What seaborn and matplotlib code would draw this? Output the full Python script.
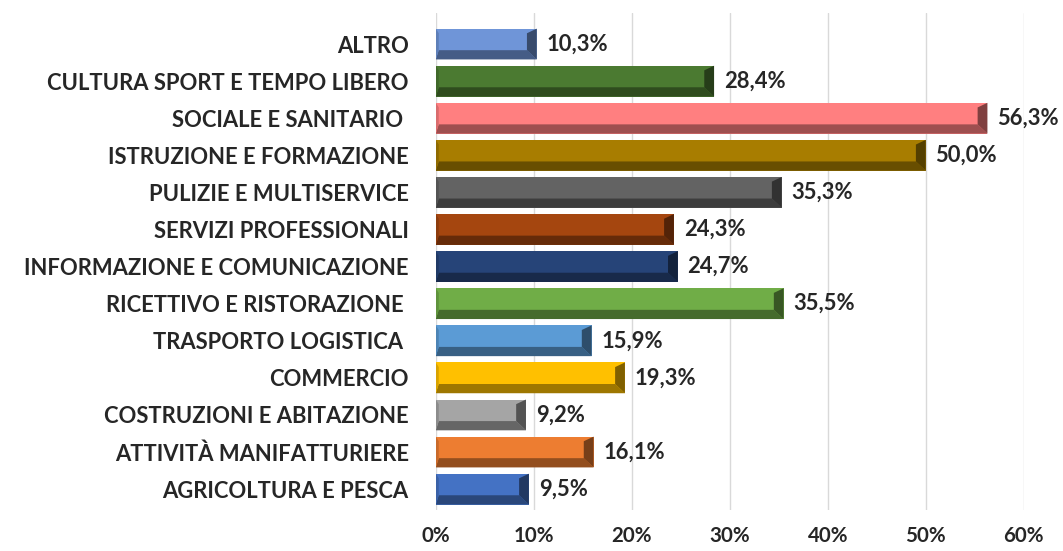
import matplotlib
matplotlib.use("Agg")
import matplotlib.pyplot as plt
import seaborn as sns
import pandas as pd
from matplotlib.patches import Polygon
from matplotlib.colors import to_rgb

# data
settori = ["ALTRO", "CULTURA SPORT E TEMPO LIBERO", "SOCIALE E SANITARIO ",
           "ISTRUZIONE E FORMAZIONE", "PULIZIE E MULTISERVICE", "SERVIZI PROFESSIONALI",
           "INFORMAZIONE E COMUNICAZIONE", "RICETTIVO E RISTORAZIONE ",
           "TRASPORTO LOGISTICA ", "COMMERCIO", "COSTRUZIONI E ABITAZIONE",
           "ATTIVITÀ MANIFATTURIERE", "AGRICOLTURA E PESCA"]
valori = [10.3, 28.4, 56.3, 50.0, 35.3, 24.3, 24.7, 35.5, 15.9, 19.3, 9.2, 16.1, 9.5]
colori = ["#6f95d8", "#4b7a31", "#ff7f80", "#a87d00", "#636363", "#a5460f", "#264478",
          "#70ad47", "#5b9bd5", "#ffc000", "#a5a5a5", "#ed7d31", "#4472c4"]
tick_vals = [0, 10, 20, 30, 40, 50, 60]

df = pd.DataFrame({"settore": settori, "valore": valori})

sns.set_style("white")
plt.rcParams["font.family"] = ["Lato", "DejaVu Sans"]

fig = plt.figure(figsize=(10.63, 5.51), dpi=100)
ax = fig.add_axes([0.41, 0.0753, 0.553, 0.902])

sns.barplot(data=df, x="valore", y="settore", hue="settore", palette=colori,
            legend=False, width=0.83, ax=ax, saturation=1, zorder=3)


def darker(c, f):
    r, g, b = to_rgb(c)
    return (r * f, g * f, b * f)


# bevel look: darker bottom strip and right end
for p, c in zip(ax.patches, colori):
    x0, y0 = p.get_x(), p.get_y()
    w, h = p.get_width(), p.get_height()
    x1, y1 = x0 + w, y0 + h
    b = 1.0
    s = h * 0.3
    p.set_edgecolor("none")
    ax.add_patch(Polygon([(x0, y1), (x1, y1), (x1 - b, y1 - s), (x0 + 0.3, y1 - s)],
                         closed=True, facecolor=darker(c, 0.62), edgecolor="none", zorder=4))
    ax.add_patch(Polygon([(x1, y0), (x1, y1), (x1 - b, y1 - s), (x1 - b, y0 + h * 0.15)],
                         closed=True, facecolor=darker(c, 0.5), edgecolor="none", zorder=4))
    ax.add_patch(Polygon([(x0, y0), (x0 + 0.3, y0 + h * 0.15), (x0 + 0.3, y1 - s), (x0, y1)],
                         closed=True, facecolor=darker(c, 0.85), edgecolor="none", zorder=4))
    ax.text(x1 + 1.0, y0 + h / 2, f"{w:.1f}%".replace(".", ","), va="center", ha="left",
            fontsize=15.8, fontweight="bold", color="#262626", clip_on=False, zorder=5)

ax.set_xlim(0, 60)
ax.set_ylim(12.55, -0.85)
ax.set_xticks(tick_vals)
ax.set_xticklabels([f"{t}%" for t in tick_vals], fontsize=14.8, fontweight="bold", color="#262626")
ax.tick_params(axis="x", length=0, pad=12)
ax.tick_params(axis="y", length=0, pad=19.5)
for lab in ax.get_yticklabels():
    lab.set_fontsize(15.8)
    lab.set_fontweight("bold")
    lab.set_color("#262626")
ax.set_xlabel("")
ax.set_ylabel("")
ax.grid(axis="x", color="#d9d9d9", linewidth=1, zorder=0)
ax.set_axisbelow(True)
sns.despine(ax=ax, left=True, bottom=True)

fig.savefig("out.png", dpi=100)
